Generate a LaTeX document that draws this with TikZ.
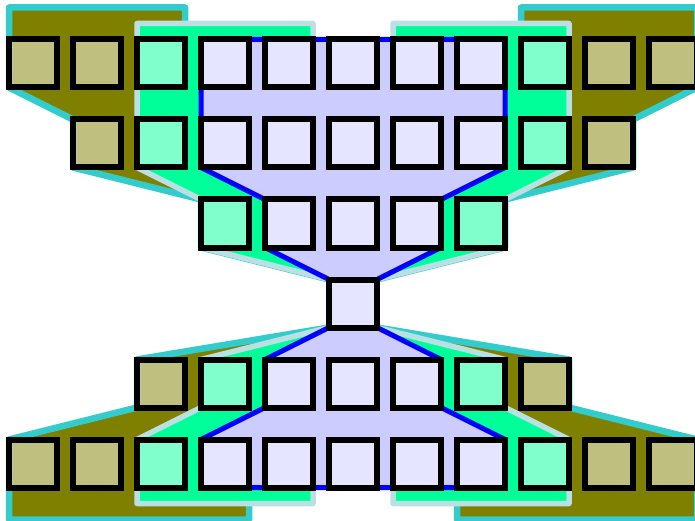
\documentclass[tikz,border=0pt]{standalone}
\usepackage{xcolor}
\usepackage{tikz}
\usetikzlibrary{backgrounds}
\definecolor{fieldolive}{RGB}{128,128,0}
\definecolor{fieldcyan}{RGB}{51,204,204}
\definecolor{fieldgreen}{RGB}{0,255,153}
\definecolor{fieldpale}{RGB}{186,224,228}
\definecolor{fieldlav}{RGB}{204,204,255}

\begin{document}
\begin{tikzpicture}[
      x=1pt, y=-1pt,
      cell/.style={draw=black, line width=6pt, fill=white, fill opacity=0.5,
      minimum size=48pt, inner sep=0pt, outer sep=0pt},
      outerrf/.style={draw=fieldcyan, fill=fieldolive, line width=6.5pt,
      line join=round},
      midrf/.style={draw=fieldpale, fill=fieldgreen, line width=5.5pt,
      line join=round},
      innerrf/.style={draw=blue, fill=fieldlav, line width=5pt,
      line join=round}
    ]
    \useasboundingbox (0,0) rectangle (695,521);

    \foreach \r/\y/\first/\last in {1/63.5/0/10, 2/143.5/1/9, 3/223.5/3/7,
      4/303.5/5/5, 5/383.5/2/8, 6/463.5/0/10}
      \foreach \c in {\first,...,\last}
        \node[cell] (c\r-\c) at ({33+64*\c},\y) {};

    \begin{scope}[on background layer]
      \draw[outerrf] ([yshift=32pt]c1-0.north west)
        -- ([yshift=32pt]c1-2.north east) -- ([yshift=-5.5pt]c1-2.north east)
        -- ([yshift=-5.5pt]c1-8.north west) -- ([yshift=32pt]c1-8.north west)
        -- ([yshift=32pt]c1-10.north east) -- (c1-10.south east)
        -- (c2-9.north east) -- (c2-9.south east) -- (c3-7.north east)
        -- (c3-7.south east) -- (c4-5.north east) -- (c4-5.north west)
        -- (c3-3.south west) -- (c3-3.north west) -- (c2-1.south west)
        -- (c2-1.north west) -- (c1-0.south west) -- cycle;
      \draw[outerrf] (c4-5.south west) -- (c5-2.north west)
        -- (c5-2.south west) -- (c6-0.north west)
        -- ([yshift=-32pt]c6-0.south west) -- ([yshift=-32pt]c6-3.south east)
        -- ([yshift=5.5pt]c6-3.south east) -- ([yshift=5.5pt]c6-7.south west)
        -- ([yshift=-32pt]c6-7.south west) -- ([yshift=-32pt]c6-10.south east)
        -- (c6-10.north east) -- (c5-8.south east) -- (c5-8.north east)
        -- (c4-5.south east) -- cycle;

      \draw[midrf] ([yshift=16pt]c1-2.north west)
        -- ([yshift=16pt]c1-4.north east) -- ([yshift=-5.5pt]c1-4.north east)
        -- ([yshift=-5.5pt]c1-6.north west) -- ([yshift=16pt]c1-6.north west)
        -- ([yshift=16pt]c1-8.north east) -- (c2-8.south east)
        -- (c3-7.north east) -- (c3-7.south east) -- (c4-5.north east)
        -- (c4-5.north west) -- (c3-3.south west) -- (c3-3.north west)
        -- (c2-2.south west) -- cycle;
      \draw[midrf] (c4-5.south west) -- (c5-3.north west)
        -- (c5-3.south west) -- (c6-2.north west)
        -- ([yshift=-16pt]c6-2.south west) -- ([yshift=-16pt]c6-4.south east)
        -- ([yshift=5.5pt]c6-4.south east) -- ([yshift=5.5pt]c6-6.south west)
        -- ([yshift=-16pt]c6-6.south west) -- ([yshift=-16pt]c6-8.south east)
        -- (c6-8.north east) -- (c5-7.south east) -- (c5-7.north east)
        -- (c4-5.south east) -- cycle;

      \draw[innerrf] (c1-3.north west) -- (c1-7.north east)
        -- (c2-7.south east) -- (c3-6.north east) -- (c3-6.south east)
        -- (c4-5.north east) -- (c4-5.south east) -- (c5-6.north east)
        -- (c5-6.south east) -- (c6-7.north east) -- (c6-7.south east)
        -- (c6-3.south west) -- (c6-3.north west) -- (c5-4.south west)
        -- (c5-4.north west) -- (c4-5.south west) -- (c4-5.north west)
        -- (c3-4.south west) -- (c3-4.north west) -- (c2-3.south west)
        -- cycle;
    \end{scope}
\end{tikzpicture}
\end{document}
